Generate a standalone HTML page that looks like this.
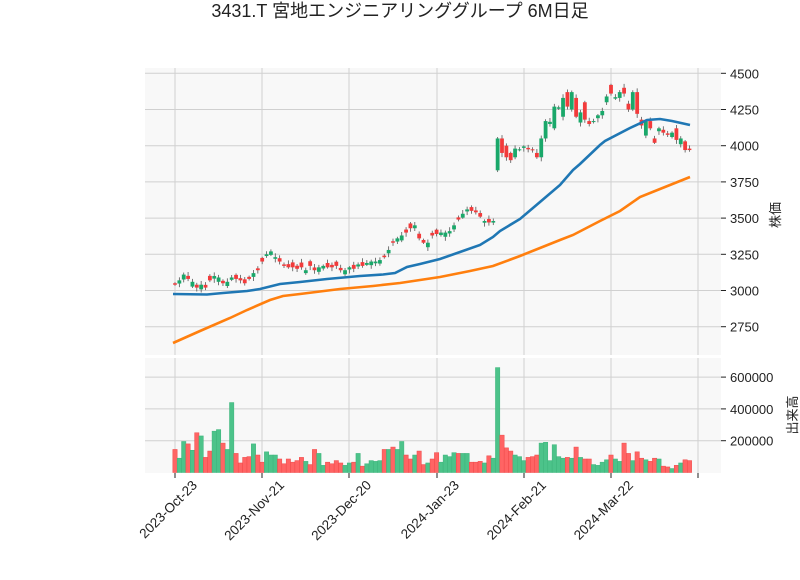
<!DOCTYPE html>
<html><head><meta charset="utf-8"><style>
body{margin:0;background:#fff;width:800px;height:575px;overflow:hidden}
text{font-family:"Liberation Sans","Noto Sans CJK JP",sans-serif;fill:#222}
</style></head><body>
<svg id="s" width="800" height="575" xmlns="http://www.w3.org/2000/svg">
<text x="400" y="17" font-size="18" text-anchor="middle">3431.T 宮地エンジニアリンググループ 6M日足</text>
<rect x="145" y="68" width="576" height="287" fill="#f8f8f8"/>
<rect x="145" y="358" width="576" height="115" fill="#f8f8f8"/>
<g id="grid" stroke="#d0d0d0" stroke-width="1"></g>
<g id="vol"></g>
<g id="cand"></g>
<polyline fill="none" stroke="#1f77b4" stroke-width="2.6" points="173,294 207,294.5 223,293 247,291 260,289 280,284 300,282 327,279 360,276 383,274.5 395,273 407,267 420,264 440,259 460,252 480,245 493,237 500,231 520,219 540,202 560,185 573,170 580,164 600,145 605,141 630,128 647,120 660,119 672,121 690,125"/>
<polyline fill="none" stroke="#ff7f0e" stroke-width="2.6" points="173,343 200,331 230,318 247,310 270,300 283,296 300,294 340,289 373,286 400,283 420,280 440,277 470,271 493,266 520,256 540,248 560,240 573,235 600,221 620,211 640,197 660,189 690,177"/>
<g id="ax"></g>
<text transform="translate(780,215) rotate(-90)" font-size="13" text-anchor="middle">株価</text>
<text transform="translate(797,415) rotate(-90)" font-size="13" text-anchor="middle">出来高</text>
</svg>
<script>
const NS="http://www.w3.org/2000/svg";
function el(p,t,a,txt){const e=document.createElementNS(NS,t);for(const k in a)e.setAttribute(k,a[k]);if(txt!==undefined)e.textContent=txt;document.getElementById(p).appendChild(e);return e;}
const py=p=>73.3+(4500-p)*0.1448;
const vy=v=>472.5-v*0.159;
const bx=i=>175+i*4.36;
const xt=[175,262,349,437,524,611,698];
const xl=["2023-Oct-23","2023-Nov-21","2023-Dec-20","2024-Jan-23","2024-Feb-21","2024-Mar-22"];
xt.forEach(x=>{el("grid","line",{x1:x,x2:x,y1:68,y2:355});el("grid","line",{x1:x,x2:x,y1:358,y2:473});});
[4500,4250,4000,3750,3500,3250,3000,2750].forEach(p=>{const y=py(p);el("grid","line",{x1:145,x2:721,y1:y,y2:y});
 el("ax","line",{x1:721,x2:726,y1:y,y2:y,stroke:"#222"});el("ax","text",{x:730,y:y+5,"font-size":13},p);});
[600,400,200].forEach(v=>{const y=vy(v);el("grid","line",{x1:145,x2:721,y1:y,y2:y});
 el("ax","line",{x1:721,x2:726,y1:y,y2:y,stroke:"#222"});el("ax","text",{x:730,y:y+5,"font-size":13},v*1000);});
xt.forEach((x,i)=>{el("ax","line",{x1:x,x2:x,y1:473,y2:478,stroke:"#222"});
 if(xl[i])el("ax","text",{transform:`translate(${x+23},${486}) rotate(-45)`,"font-size":13.5,"text-anchor":"end"},xl[i]);});
const c0=[3040,3070,3110,3080,3060,3020,3040,3020,3070,3100,3090,3050,3060,3090,3080,3070,3050,3080,3120,3140,3200,3250,3270,3230,3200,3170,3160,3160,3150,3160,3140,3170,3140,3160,3170,3160,3160,3170,3140,3140,3160,3150,3180,3170,3190,3200,3200,3210,3230,3280,3330,3360,3380,3400,3430,3450,3360,3330,3330,3380,3390,3400,3400,3410,3450,3490,3530,3560,3550,3540,3510,3480,3470,3480];
const pat="RGGRGRGRRGGRGGRRRRGRRGGGRRRRRRGRRGGRRRRGGRGRGGGGRGRGGRRGRRGRRGGGGRGGRRRGRG";
const O=[],C=[];
c0.forEach((c,i)=>{const up=pat[i]!=="R";const d=10+((i*37)%25);C.push(c);O.push(up?c-d:c+d);});
const tail=[[3830,4050],[4050,3950],[4000,3920],[3950,3900],[3920,3980],[3970,3975],[3985,3995],[3985,3975],[3975,3968],[3950,3920],[3920,4050],[4050,4170],[4150,4165],[4120,4270],[4255,4265],[4200,4330],[4370,4270],[4250,4370],[4330,4200],[4160,4230],[4300,4180],[4170,4150],[4165,4170],[4190,4210],[4210,4240],[4300,4340],[4420,4360],[4325,4335],[4330,4370],[4400,4360],[4290,4250],[4250,4370],[4370,4220],[4180,4140],[4070,4170],[4170,4120],[4050,4020],[4100,4120],[4110,4090],[4085,4075],[4060,4090],[4120,4040],[4010,4050],[4030,3970],[3980,3970]];
tail.forEach(t=>{O.push(t[0]);C.push(t[1]);});
const V=[145,90,195,180,140,250,230,95,135,260,270,185,145,440,120,60,95,100,180,110,65,130,110,110,85,55,85,65,75,95,70,50,145,120,45,65,55,75,60,45,60,65,120,40,55,75,70,75,145,145,160,145,195,110,85,110,135,50,60,85,125,65,110,100,125,120,120,120,65,65,70,60,105,90,660,235,155,135,110,100,75,95,100,110,185,190,75,175,100,90,95,90,160,95,85,85,50,45,65,80,110,85,70,185,120,75,130,90,80,70,90,85,40,35,25,45,60,80,75];
for(let i=0;i<O.length;i++){
 const x=bx(i),o=O[i],c=C[i],up=c>=o;
 const hi=Math.max(o,c)+8+((i*13)%20),lo=Math.min(o,c)-8-((i*17)%22);
 el("cand","line",{x1:x,x2:x,y1:py(hi),y2:py(lo),stroke:"#555","stroke-width":0.8});
 const y1=py(Math.max(o,c)),y2=py(Math.min(o,c));
 el("cand","rect",{x:x-1.9,y:y1,width:3.8,height:Math.max(1,y2-y1),fill:up?"#1aa86a":"#f23b3b"});
 const v=V[i]||60;
 el("vol","rect",{x:x-2.18,y:vy(v),width:4.36,height:472.5-vy(v),fill:up?"#4cc38a":"#ff6464",stroke:up?"#3cb47a":"#f04848","stroke-width":0.5});
}
</script>
</body></html>
